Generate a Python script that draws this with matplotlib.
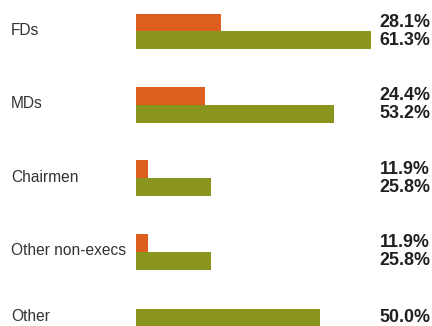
import numpy as np
import matplotlib
matplotlib.use("Agg")
import matplotlib.pyplot as plt
from matplotlib.transforms import blended_transform_factory

# Share of each role group, two series per row (the last row has only one)
categories = ["FDs", "MDs", "Chairmen", "Other non-execs", "Other"]
series_a = [28.1, 24.4, 11.9, 11.9, None]   # orange
series_b = [61.3, 53.2, 25.8, 25.8, 50.0]   # olive

color_a = "#DD5F1F"
color_b = "#8A951E"

W, H = 432, 326
fig = plt.figure(figsize=(W / 100, H / 100), dpi=100)

# plot area: bars start at x=136 px; the value axis begins a little above zero
left_px, right_px = 136, 374
ax = fig.add_axes([left_px / W, 0, (right_px - left_px) / W, 1])
ax.set_xlim(9.2, 62.0)

rows = np.array([0, 1, 2, 3, 3.9])
ax.set_ylim(4.012, -0.429)
bar_h = 0.245

# text placed in figure x, data y
tr = blended_transform_factory(fig.transFigure, ax.transData)

label_font = dict(family=["Liberation Sans", "DejaVu Sans"], size=11.2, color="#333333")
value_font = dict(family=["Liberation Sans", "DejaVu Sans"], size=12.9, weight="bold", color="#231f20")

for y, cat, a, b in zip(rows, categories, series_a, series_b):
    ax.text(11 / W, y - 0.015, cat, transform=tr, ha="left", va="center", **label_font)
    if a is not None:
        ya, yb = y - bar_h / 2, y + bar_h / 2
        ax.barh(ya, a, height=bar_h, color=color_a, linewidth=0)
        ax.barh(yb, b, height=bar_h, color=color_b, linewidth=0)
        pairs = [(ya, a), (yb, b)]
    else:
        ax.barh(y, b, height=bar_h, color=color_b, linewidth=0)
        pairs = [(y, b)]
    for yy, v in pairs:
        ax.text(430 / W, yy, f"{v:.1f}%", transform=tr, ha="right", va="center",
                **value_font)

ax.axis("off")
fig.savefig("out.png", dpi=100, facecolor="white")
